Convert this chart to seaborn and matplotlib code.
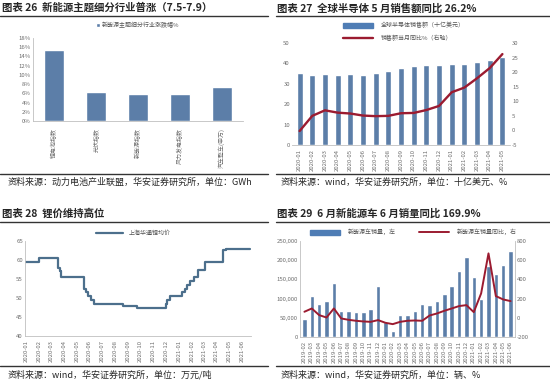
import numpy as np
import pandas as pd
import seaborn as sns
import matplotlib.pyplot as plt
from matplotlib.lines import Line2D
from matplotlib.patches import Patch

# ---- data ----
# panel 26: new-energy sub-sector gains (%)
sector_names = ['锂电池指数', '光伏指数', '新能源指数', '风力发电指数', '汽车整车(申万)']
sector_gain = [15.3, 6.2, 5.9, 5.8, 7.3]

# panel 27: global semiconductor sales
semi_months = ['2020-01', '2020-02', '2020-03', '2020-04', '2020-05', '2020-06', '2020-07',
               '2020-08', '2020-09', '2020-10', '2020-11', '2020-12', '2021-01', '2021-02',
               '2021-03', '2021-04', '2021-05']
semi_sales = [35.4, 34.3, 34.8, 34.3, 34.8, 34.3, 35.1, 36.1, 37.7, 38.9, 39.2, 39.0,
              39.8, 39.5, 40.8, 41.8, 43.3]
semi_yoy = [-0.2, 5.0, 6.9, 6.1, 5.8, 5.1, 4.9, 5.0, 5.9, 6.0, 7.0, 8.4,
            13.1, 14.7, 17.9, 21.4, 26.2]

# panel 28: lithium price (step changes)
li_dates = ['2020-01-01', '2020-02-01', '2020-03-18', '2020-03-21', '2020-03-25',
            '2020-05-18', '2020-05-22', '2020-05-28', '2020-06-03', '2020-06-10',
            '2020-08-20', '2020-09-23', '2020-11-30', '2020-12-04', '2020-12-10',
            '2021-01-08', '2021-01-14', '2021-01-20', '2021-01-28', '2021-02-05',
            '2021-02-15', '2021-03-05', '2021-04-16', '2021-04-24', '2021-06-20']
li_price = [59.5, 60.5, 58.0, 57.0, 55.5, 52.5, 51.5, 50.5, 49.5, 48.5, 48.0, 47.5,
            48.5, 49.5, 50.5, 51.5, 52.5, 53.5, 54.5, 55.5, 57.5, 59.5, 62.5, 63.0, 63.0]
li_ticks = ['2020-01', '2020-02', '2020-03', '2020-04', '2020-05', '2020-06', '2020-07',
            '2020-08', '2020-09', '2020-10', '2020-11', '2020-12', '2021-01', '2021-02',
            '2021-03', '2021-04', '2021-05', '2021-06']

# panel 29: NEV sales
nev_months = ['2019-02', '2019-03', '2019-04', '2019-05', '2019-06', '2019-07', '2019-08',
              '2019-09', '2019-10', '2019-11', '2019-12', '2020-01', '2020-02', '2020-03',
              '2020-04', '2020-05', '2020-06', '2020-07', '2020-08', '2020-09', '2020-10',
              '2020-11', '2020-12', '2021-01', '2021-02', '2021-03', '2021-04', '2021-05',
              '2021-06']
nev_sales = [47000, 107000, 87000, 95000, 140000, 67000, 67000, 64000, 65000, 73000,
             132000, 40000, 16000, 56000, 57000, 69000, 85000, 84000, 95000, 112000,
             134000, 172000, 209000, 156000, 99000, 186000, 163000, 188000, 224000]
nev_yoy = [63, 97, 28, 3, 97, -7, -21, -31, -38, -42, -24, -52, -66, -42, -31, -28, -31,
           24, 45, 73, 97, 122, 132, 59, 254, 671, 226, 191, 174]

# ---- style ----
sns.set_style('white')
plt.rcParams['font.family'] = ['Noto Sans CJK SC', 'DejaVu Sans']
plt.rcParams['axes.unicode_minus'] = False

W, H = 550, 386
BAR = '#4F7DB5'
RED = '#9B1B30'
LI = '#4C6F8C'
TICK = '#6E6E6E'
SPINE = '#BFBFBF'
FS = 4.3

fig = plt.figure(figsize=(5.5, 3.86), dpi=100)


def box(x0, y0, x1, y1):
    return [x0 / W, 1 - y1 / H, (x1 - x0) / W, (y1 - y0) / H]


def hline(x0, x1, y, lw=1.0, color='#333333'):
    fig.add_artist(Line2D([x0 / W, x1 / W], [1 - y / H, 1 - y / H], color=color, lw=lw))


def ftext(x, y, s, **kw):
    fig.text(x / W, 1 - y / H, s, va='center', **kw)


def style_ax(ax, left=True, right=False):
    for side in ['top', 'right', 'left', 'bottom']:
        ax.spines[side].set_visible(False)
    ax.spines['bottom'].set_visible(True)
    ax.spines['bottom'].set_color(SPINE)
    ax.spines['bottom'].set_linewidth(0.6)
    if left:
        ax.spines['left'].set_visible(True)
        ax.spines['left'].set_color(SPINE)
        ax.spines['left'].set_linewidth(0.6)
    if right:
        ax.spines['right'].set_visible(True)
        ax.spines['right'].set_color(SPINE)
        ax.spines['right'].set_linewidth(0.6)
    ax.tick_params(labelsize=FS, colors=TICK, length=0, pad=1.5)
    ax.set_xlabel('')
    ax.set_ylabel('')


def gray_legend(leg):
    for t in leg.get_texts():
        t.set_color('#555555')


# titles, rules, sources
ftext(2, 8, '图表 26  新能源主题细分行业普涨（7.5-7.9）', fontsize=7.5, fontweight='bold')
ftext(277, 8, '图表 27  全球半导体 5 月销售额同比 26.2%', fontsize=7.5, fontweight='bold')
ftext(2, 214, '图表 28  锂价维持高位', fontsize=7.5, fontweight='bold')
ftext(277, 214, '图表 29  6 月新能源车 6 月销量同比 169.9%', fontsize=7.5, fontweight='bold')
hline(0, 268, 16)
hline(276, 550, 16)
hline(0, 268, 222)
hline(276, 550, 222)
hline(0, 268, 174)
hline(276, 550, 174)
hline(0, 268, 366)
hline(276, 550, 366)
ftext(8, 182, '资料来源：动力电池产业联盟，华安证券研究所，单位：GWh', fontsize=6.5)
ftext(281, 182, '资料来源：wind，华安证券研究所，单位：十亿美元、%', fontsize=6.5)
ftext(8, 375, '资料来源：wind，华安证券研究所，单位：万元/吨', fontsize=6.5)
ftext(281, 375, '资料来源：wind，华安证券研究所，单位：辆、%', fontsize=6.5)

# ---- panel 26 ----
ax1 = fig.add_axes(box(33, 38, 243, 121))
sns.barplot(x=sector_names, y=sector_gain, color=BAR, width=0.48, ax=ax1,
            label='新能源主题细分行业涨跌幅%')
ax1.set_ylim(0, 18)
ax1.set_yticks(range(0, 19, 2))
ax1.set_yticklabels([f'{v}%' for v in range(0, 19, 2)])
style_ax(ax1)
ax1.tick_params(axis='x', rotation=90, pad=5)
leg = ax1.legend(loc='lower center', bbox_to_anchor=(0.5, 1.05), frameon=False, fontsize=FS,
                 handlelength=0.6, handleheight=0.6, handletextpad=0.4)
gray_legend(leg)

# ---- panel 27 ----
ax2 = fig.add_axes(box(292, 43, 510, 145))
sns.barplot(x=semi_months, y=semi_sales, color=BAR, width=0.47, ax=ax2)
ax2.set_ylim(0, 50)
ax2.set_yticks(range(0, 51, 10))
style_ax(ax2, left=False)
ax2.tick_params(axis='x', rotation=90, pad=3)
ax2b = ax2.twinx()
sns.lineplot(x=np.arange(len(semi_yoy)), y=semi_yoy, color=RED, lw=1.7, ax=ax2b)
ax2b.set_ylim(-5, 30)
ax2b.set_yticks(range(-5, 31, 5))
style_ax(ax2b, left=False)
ax2b.spines['bottom'].set_visible(False)
ax2.set_xlim(-0.6, len(semi_months) - 0.4)
leg = fig.legend(handles=[Patch(color=BAR, label='全球半导体销售额（十亿美元）'),
                          Line2D([], [], color=RED, lw=1.7, label='销售额当月同比%（右轴）')],
                 loc='upper left', bbox_to_anchor=(338 / W, 1 - 17 / H), frameon=False,
                 fontsize=FS, handlelength=5, handleheight=0.9, handletextpad=1.2,
                 labelspacing=1.1)
gray_legend(leg)

# ---- panel 28 ----
ax3 = fig.add_axes(box(25, 241, 251, 336))
li = pd.DataFrame({'date': pd.to_datetime(li_dates), 'price': li_price})
sns.lineplot(data=li, x='date', y='price', color=LI, lw=1.6, drawstyle='steps-post',
             ax=ax3, label='上海华通锂均价')
ax3.set_ylim(40, 65)
ax3.set_yticks(range(40, 66, 5))
ax3.set_xlim(pd.Timestamp('2019-12-29'), pd.Timestamp('2021-06-22'))
ax3.set_xticks(pd.to_datetime([t + '-01' for t in li_ticks]))
ax3.set_xticklabels(li_ticks)
style_ax(ax3)
ax3.tick_params(axis='x', rotation=90, pad=3)
leg = ax3.legend(loc='lower center', bbox_to_anchor=(0.48, 1.0), frameon=False, fontsize=FS,
                 handlelength=4.5, handletextpad=1.0)
gray_legend(leg)

# ---- panel 29 ----
ax4 = fig.add_axes(box(300, 241, 515, 337))
sns.barplot(x=nev_months, y=nev_sales, color=BAR, width=0.6, ax=ax4)
ax4.set_ylim(0, 250000)
ax4.set_yticks(range(0, 250001, 50000))
ax4.set_yticklabels([f'{v:,}' for v in range(0, 250001, 50000)])
style_ax(ax4, left=True)
ax4.tick_params(axis='x', rotation=90, pad=3)
ax4b = ax4.twinx()
sns.lineplot(x=np.arange(len(nev_yoy)), y=nev_yoy, color=RED, lw=1.4, ax=ax4b)
ax4b.set_ylim(-200, 800)
ax4b.set_yticks(range(-200, 801, 200))
style_ax(ax4b, left=False, right=True)
ax4b.spines['bottom'].set_visible(False)
ax4.set_xlim(-0.6, len(nev_months) - 0.4)
leg = fig.legend(handles=[Patch(color=BAR, label='新能源车销量，左'),
                          Line2D([], [], color=RED, lw=1.4, label='新能源车销量同比，右')],
                 loc='center left', bbox_to_anchor=(305 / W, 1 - 232 / H), frameon=False,
                 fontsize=FS, ncol=2, handlelength=5, handleheight=0.9, handletextpad=1.2,
                 columnspacing=4)
gray_legend(leg)

fig.savefig('out.png', dpi=100)
